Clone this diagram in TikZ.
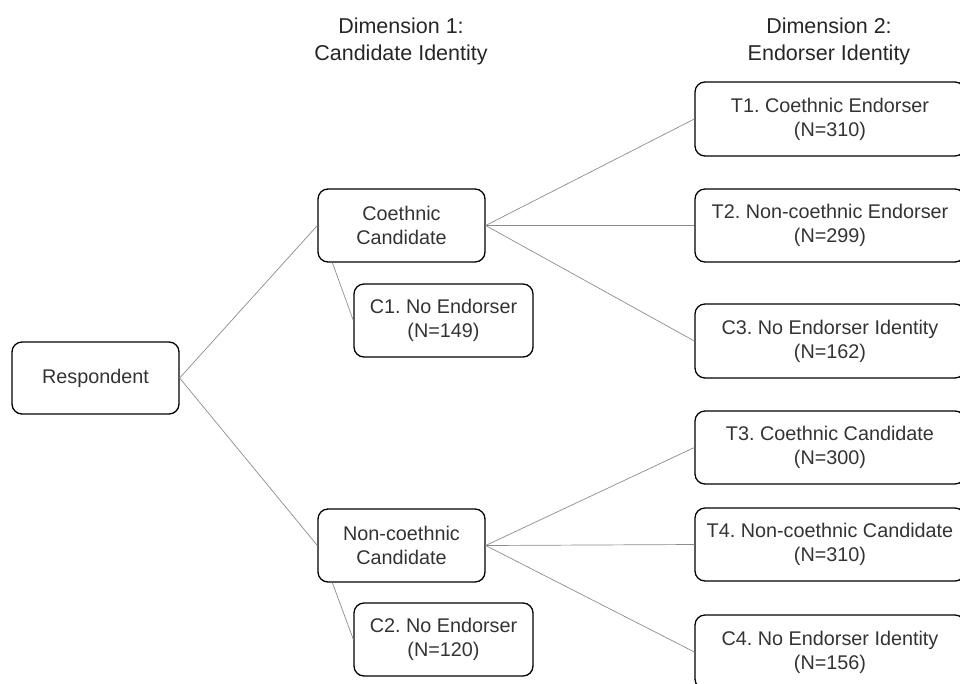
\documentclass[tikz,border=0pt]{standalone}
\usepackage{fontspec}
\setmainfont{Liberation Sans}
\begin{document}
\frenchspacing
\begin{tikzpicture}[x=1pt,y=-1pt,
  box/.style={draw=black, line width=1.3pt, rounded corners=10pt, align=center,
    inner sep=0pt, font=\fontsize{19.8}{24}\selectfont, text=black!80},
  head/.style={align=center, font=\fontsize{21.5}{27}\selectfont, text=black!85},
  conn/.style={draw=black!45, line width=0.7pt}]
\useasboundingbox (0,0) rectangle (960,683);
\node[head] (h1) at (401,41) {Dimension 1:\\Candidate Identity};
\node[head] (h2) at (829,41) {Dimension 2:\\Endorser Identity};
\node[box, minimum width=167pt, minimum height=72pt] (resp) at (95.5,378) {Respondent};
\node[box, minimum width=167pt, minimum height=73pt] (co) at (401.5,225.5) {Coethnic\\Candidate};
\node[box, minimum width=179pt, minimum height=73pt] (c1) at (443.5,320.5) {C1. No Endorser\\(N=149)};
\node[box, minimum width=167pt, minimum height=73pt] (nco) at (401.5,545.5) {Non-coethnic\\Candidate};
\node[box, minimum width=179pt, minimum height=73pt] (c2) at (443.5,639.5) {C2. No Endorser\\(N=120)};
\node[box, minimum width=270pt, minimum height=74pt] (t1) at (830,119) {T1. Coethnic Endorser\\(N=310)};
\node[box, minimum width=270pt, minimum height=73pt] (t2) at (830,225.5) {T2. Non-coethnic Endorser\\(N=299)};
\node[box, minimum width=270pt, minimum height=74pt] (c3) at (830,341) {C3. No Endorser Identity\\(N=162)};
\node[box, minimum width=270pt, minimum height=73pt] (t3) at (830,447.5) {T3. Coethnic Candidate\\(N=300)};
\node[box, minimum width=270pt, minimum height=73pt] (t4) at (830,544.5) {T4. Non-coethnic Candidate\\(N=310)};
\node[box, minimum width=270pt, minimum height=74pt] (c4) at (830,652) {C4. No Endorser Identity\\(N=156)};
\draw[conn] (resp.east) -- (co.west);
\draw[conn] (resp.east) -- (nco.west);
\draw[conn] (co.east) -- (t1.west);
\draw[conn] (co.east) -- (t2.west);
\draw[conn] (co.east) -- (c3.west);
\draw[conn] (nco.east) -- (t3.west);
\draw[conn] (nco.east) -- (t4.west);
\draw[conn] (nco.east) -- (c4.west);
\draw[conn] ([xshift=15pt]co.south west) -- (c1.west);
\draw[conn] ([xshift=15pt]nco.south west) -- (c2.west);
\end{tikzpicture}
\end{document}
